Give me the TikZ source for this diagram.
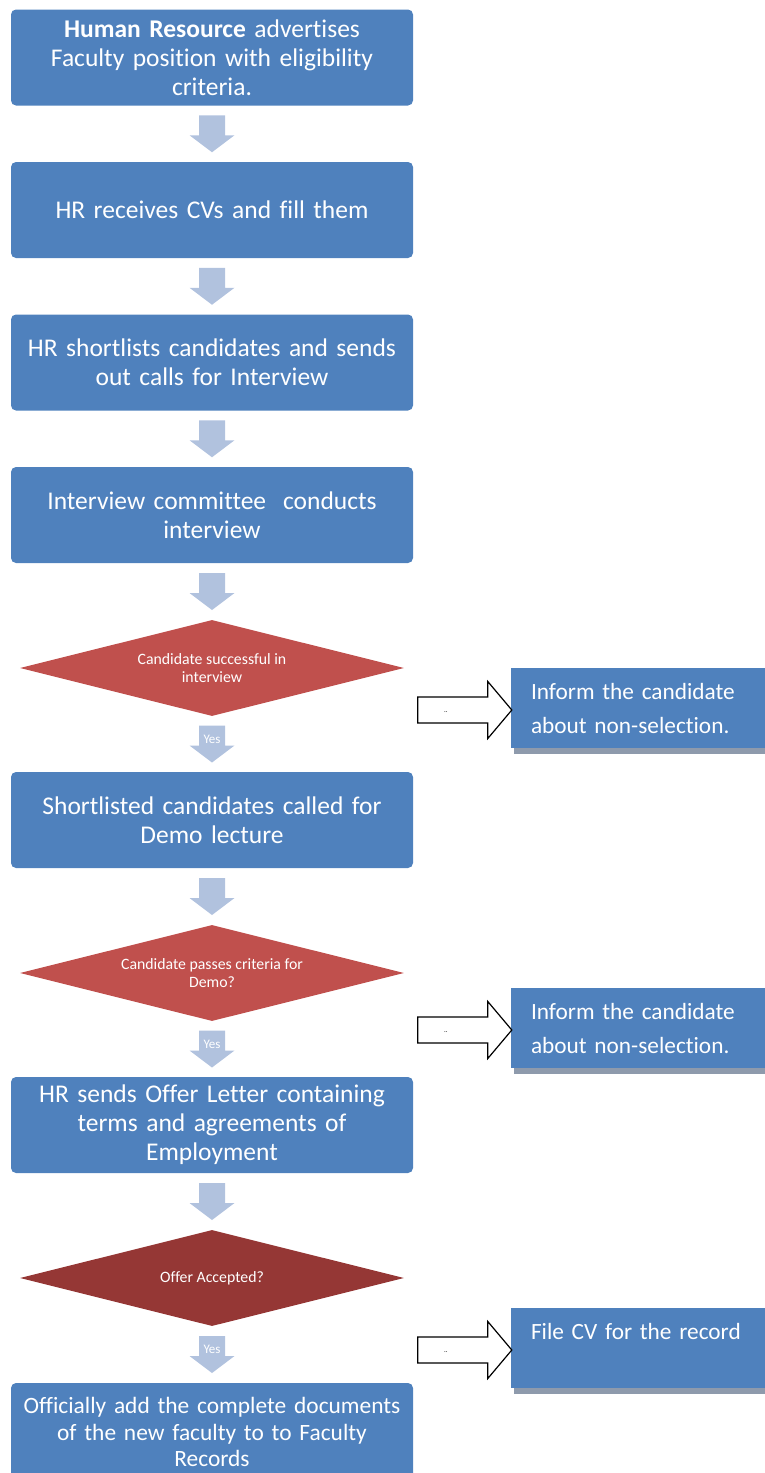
\documentclass[tikz,border=0pt]{standalone}
\usepackage{fontspec}
\setmainfont{Carlito}[Ligatures=CommonOff]
\usetikzlibrary{shapes.geometric,calc,shadows}
\definecolor{boxblue}{HTML}{4F81BD}
\definecolor{decred}{HTML}{C0504D}
\definecolor{decdark}{HTML}{953735}
\definecolor{arrowblue}{HTML}{B1C2DE}
\definecolor{shadowgray}{HTML}{8E9AAC}
\begin{document}
\begin{tikzpicture}[x=1pt,y=-1pt,
  mainbox/.style={fill=boxblue, rounded corners=5pt, text=white, minimum width=402pt,
    minimum height=96pt, text width=400pt, align=center, inner sep=0pt,
    font=\fontsize{25.5}{29}\selectfont},
  decision/.style={diamond, fill=#1, text=white, minimum width=384pt, minimum height=96pt,
    shape aspect=4, inner sep=0pt, align=center, font=\fontsize{15.8}{18}\selectfont},
  sidebox/.style={fill=boxblue, text=white, minimum width=254pt, minimum height=80pt,
    text width=214pt, inner xsep=20pt, inner ysep=0pt, align=left,
    font=\fontsize{23.3}{34}\selectfont,
    drop shadow={shadow xshift=3pt, shadow yshift=-6pt, fill=shadowgray, opacity=1}},
  yeslabel/.style={text=white, font=\fontsize{13}{15}\selectfont, inner sep=0pt},
  dotlabel/.style={text=black, font=\fontsize{7}{8}\selectfont, inner sep=0pt},
  darrow/.pic={\fill[arrowblue] (-13,-18.5) -- (13,-18.5) -- (13,1.5) -- (22.5,1.5)
      -- (0,18.5) -- (-22.5,1.5) -- (-13,1.5) -- cycle;},
  sarrow/.pic={\draw[black, line width=1.2pt, fill=white, line join=miter] (-94,-13) -- (-24,-13)
      -- (-24,-28.5) -- (0,0) -- (-24,28.5) -- (-24,13) -- (-94,13) -- cycle;}
]
\useasboundingbox (0,0) rectangle (765,1473);

% main process boxes
\node[mainbox] (b1) at (212,57.5) {\textbf{Human Resource} advertises\\Faculty position with eligibility\\criteria.};
\node[mainbox] (b2) at (212,210) {HR receives CVs and fill them};
\node[mainbox] (b3) at (212,362.5) {HR shortlists candidates and sends\\out calls for Interview};
\node[mainbox] (b4) at (212,515) {Interview committee\ \ conducts\\interview};
\node[decision=decred] (d1) at (212,668) {Candidate successful in\\interview};
\node[mainbox] (b5) at (212,820) {Shortlisted candidates called for\\Demo lecture};
\node[decision=decred] (d2) at (212,973) {Candidate passes criteria for\\Demo?};
\node[mainbox] (b6) at (212,1125) {HR sends Offer Letter containing\\terms and agreements of\\Employment};
\node[decision=decdark] (d3) at (212,1278) {Offer Accepted?};
\node[mainbox, minimum height=98pt, font=\fontsize{23.4}{26.5}\selectfont] (b7) at (212,1432)
  {Officially add the complete documents\\of the new faculty to to Faculty\\Records};

% side boxes
\node[sidebox] (s1) at (638,708) {Inform the candidate\\about non-selection.};
\node[sidebox] (s2) at (638,1028) {Inform the candidate\\about non-selection.};
\node[sidebox] (s3) at (638,1348) {File CV for the record\\\mbox{}};

% down block arrows
\coordinate (a1) at ($(b1.south)!0.5!(b2.north)$);
\coordinate (a2) at ($(b2.south)!0.5!(b3.north)$);
\coordinate (a3) at ($(b3.south)!0.5!(b4.north)$);
\coordinate (a4) at ($(b4.south)!0.5!(d1.north)$);
\coordinate (a5) at ($(d1.south)!0.5!(b5.north)$);
\coordinate (a6) at ($(b5.south)!0.5!(d2.north)$);
\coordinate (a7) at ($(d2.south)!0.5!(b6.north)$);
\coordinate (a8) at ($(b6.south)!0.5!(d3.north)$);
\coordinate (a9) at ($(d3.south)!0.5!(b7.north)$);
\foreach \a in {a1,a2,a3,a4,a5,a6,a7,a8,a9} {\pic at (\a) {darrow};}
\node[yeslabel] (y1) at ($(a5)+(0,-5)$) {Yes};
\node[yeslabel] (y2) at ($(a7)+(0,-5)$) {Yes};
\node[yeslabel] (y3) at ($(a9)+(0,-5)$) {Yes};

% side block arrows
\coordinate (t1) at ($(s1.west)+(1,2)$);
\coordinate (t2) at ($(s2.west)+(1,2)$);
\coordinate (t3) at ($(s3.west)+(1,2)$);
\foreach \t in {t1,t2,t3} {\pic at (\t) {sarrow};}
\node[dotlabel] (n1) at ($(t1)+(-66,2)$) {..};
\node[dotlabel] (n2) at ($(t2)+(-66,2)$) {..};
\node[dotlabel] (n3) at ($(t3)+(-66,2)$) {..};
\end{tikzpicture}
\end{document}
